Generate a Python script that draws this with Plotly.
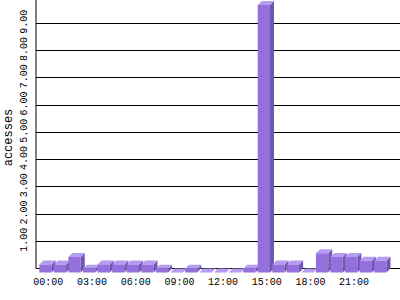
import plotly.graph_objects as go

hours = [f"{h:02d}:00" for h in range(24)]
values = [0.29, 0.29, 0.57, 0.14, 0.29, 0.29, 0.29, 0.29, 0.14, 0.0, 0.14, 0.0,
          0.0, 0.0, 0.14, 9.82, 0.29, 0.29, 0.0, 0.71, 0.57, 0.57, 0.43, 0.43]
tick_hours = [0, 3, 6, 9, 12, 15, 18, 21]
tick_text = [hours[h] for h in tick_hours]
y_ticks = [1, 2, 3, 4, 5, 6, 7, 8, 9]
y_text = [f"{v:.2f}" for v in y_ticks]

FRONT = "#9370DB"
TOP = "#B49CF2"
SIDE = "#6E57B0"

# pseudo-3D geometry (in data units)
W = 0.845      # bar width (slot = 1)
SHIFT = -0.2   # front face center offset
DX = 0.275     # depth in x
DY = 0.147     # depth in y

fx, fy, tx, ty, sx, sy = [], [], [], [], [], []
for i, v in enumerate(values):
    c = i + SHIFT
    l, r = c - W / 2, c + W / 2
    fx += [l, r, r, l, l, None]
    fy += [-DY, -DY, v - DY, v - DY, -DY, None]
    tx += [l, r, r + DX, l + DX, l, None]
    ty += [v - DY, v - DY, v, v, v - DY, None]
    sx += [r, r + DX, r + DX, r, r, None]
    sy += [-DY, 0, v, v - DY, -DY, None]

fig = go.Figure()
for xs, ys, col in [(sx, sy, SIDE), (tx, ty, TOP), (fx, fy, FRONT)]:
    fig.add_trace(go.Scatter(x=xs, y=ys, mode="lines", fill="toself",
                             fillcolor=col, line=dict(width=0, color=col),
                             hoverinfo="skip", showlegend=False))

ymin, ymax = -6.5 / 27.25, 268.5 / 27.25
fig.add_shape(type="line", xref="paper", x0=0, x1=0, yref="y", y0=0, y1=ymax,
              line=dict(color="black", width=1))

fig.update_layout(
    width=400, height=300,
    margin=dict(l=36, r=0, t=0, b=25),
    paper_bgcolor="white", plot_bgcolor="white",
    xaxis=dict(range=[-0.849, 24.151], tickvals=tick_hours, ticktext=tick_text,
               showgrid=False, zeroline=False, showline=False, ticks="",
               ticklabelstandoff=-1,
               tickfont=dict(family="Liberation Mono", size=10, color="black")),
    yaxis=dict(range=[ymin, ymax], tickvals=y_ticks, ticktext=y_text,
               tickangle=-90, showgrid=True, gridcolor="black", gridwidth=1,
               zeroline=True, zerolinecolor="black", zerolinewidth=1,
               showline=False, ticks="", ticklabelstandoff=6,
               tickfont=dict(family="Liberation Mono", size=10, color="black"),
               title=dict(text="accesses", standoff=3,
                          font=dict(family="Liberation Mono", size=12, color="black"))),
)
fig.write_html("out.html")
